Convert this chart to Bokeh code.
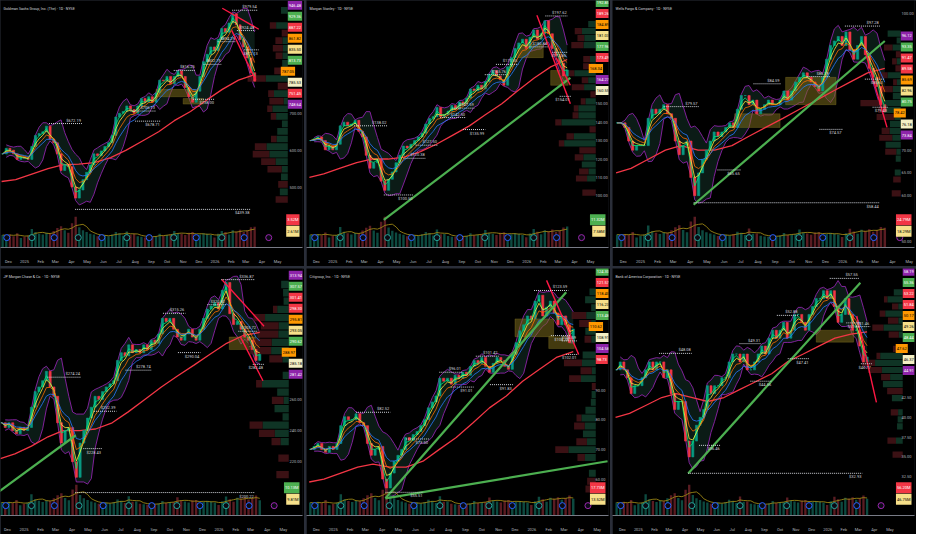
import numpy as np
import pandas as pd
from bokeh.plotting import figure
from bokeh.models import Range1d, FixedTicker, Label, GridBox, PrintfTickFormatter
from bokeh.embed import file_html
from bokeh.resources import INLINE
from bokeh.core.properties import value

# ---------------------------------------------------------------- data
week_start = "2024-11-18"
ma_dates = ["2024-11-18", "2024-12-15", "2025-01-15", "2025-02-15", "2025-03-15", "2025-04-15",
            "2025-05-15", "2025-06-15", "2025-07-15", "2025-08-15", "2025-09-15", "2025-10-15",
            "2025-11-15", "2025-12-15", "2026-01-15", "2026-02-15", "2026-03-18"]
month_ticks = pd.date_range("2024-12-01", "2026-05-01", freq="MS")
event_dates = ["2024-11-28", "2025-01-15", "2025-02-27", "2025-04-14", "2025-05-29", "2025-07-16",
               "2025-08-28", "2025-10-14", "2025-11-26", "2026-01-14", "2026-02-26", "2026-04-14"]
event_kind = ["D", "E", "D", "E", "D", "E", "D", "E", "D", "E", "D", "U"]

# Goldman Sachs
gs_title = "Goldman Sachs Group, Inc. (The) · 1D · NYSE"
gs_close = [590, 605, 600, 590, 575, 580, 578, 575, 610, 640,
            645, 650, 665, 630, 620, 590, 545, 560, 555, 500,
            470, 492, 520, 540, 560, 590, 585, 598, 610, 620,
            640, 690, 700, 705, 720, 710, 700, 720, 740, 730,
            745, 730, 755, 790, 788, 800, 780, 800, 815, 800,
            770, 745, 730, 760, 800, 840, 860, 880, 870, 900,
            930, 920, 945, 970, 940, 900, 880, 850, 810, 787.05]
gs_vol = [2.1, 2.0, 2.2, 1.9, 2.4, 1.6, 1.8, 2.0, 3.1, 2.6,
          2.3, 2.2, 2.5, 2.4, 2.8, 3.3, 3.6, 2.9, 2.5, 4.1,
          5.2, 3.4, 2.9, 2.6, 2.3, 2.2, 1.9, 2.0, 2.1, 1.9,
          2.2, 2.6, 2.4, 2.0, 2.7, 2.2, 2.3, 1.9, 1.8, 1.7,
          2.0, 1.8, 1.9, 2.3, 2.0, 2.1, 2.2, 2.8, 2.4, 2.3,
          2.1, 2.5, 2.6, 2.0, 2.2, 2.4, 2.3, 2.1, 1.7, 2.3,
          2.8, 2.6, 2.2, 2.9, 2.7, 3.0, 2.6, 2.9, 3.4, 3.5]
gs_ma = [515, 520, 535, 550, 560, 562, 566, 580, 600, 625, 650, 680, 705, 735, 765, 790, 805]
gs_piv_dates = ["2025-02-17", "2025-04-08", "2025-07-23", "2025-08-01", "2025-10-14", "2025-11-20",
                "2025-12-10", "2026-01-06", "2026-02-03", "2026-02-12", "2026-02-26"]
gs_piv_prices = [672.19, 439.38, 706.13, 678.71, 816.25, 738.00, 832.75, 894.29, 979.54, 924.48, 872.13]
gs_piv_up = [1, 0, 1, 0, 1, 0, 1, 1, 1, 1, 0]
gs_piv_len = [9, 48, 7, 7, 6, 6, 5, 5, 7, 5, 4]
gs_trend = [("2026-01-15", 985, "2026-03-26", 928, "R"), ("2026-02-02", 925, "2026-03-20", 790, "R")]
gs_zones = [("2025-09-10", "2025-11-25", 745, 765), ("2025-11-01", "2025-12-10", 725, 740)]
gs_boxes = ["946.48", "929.36", "887.22", "861.82", "835.50", "813.73", "787.05", "785.53", "751.45", "748.64"]
gs_box_cols = ["P", "G", "R", "O", "Y", "G", "C", "L", "R", "P"]
gs_vol_boxes = ["3.52M", "2.61M"]
gs_vol_cols = ["R", "Y"]
gs_ticks = [500, 600, 700]

# Morgan Stanley
ms_title = "Morgan Stanley · 1D · NYSE"
ms_close = [130, 131, 132, 130, 125, 127, 125, 128, 138, 140,
            138, 139, 141, 135, 132, 122, 115, 118, 120, 108,
            103, 109, 113, 118, 122, 127, 126, 128, 130, 132,
            134, 139, 142, 143, 148, 143, 144, 146, 149, 147,
            151, 150, 153, 158, 157, 160, 158, 162, 166, 168,
            165, 163, 160, 170, 175, 180, 183, 185, 180, 186,
            190, 185, 188, 195, 188, 180, 176, 172, 165, 168.34]
ms_vol = [6.1, 5.8, 6.5, 5.9, 7.2, 4.8, 5.5, 6.0, 9.8, 7.5,
          6.8, 6.2, 7.0, 6.9, 8.1, 9.5, 10.4, 8.2, 7.1, 12.3,
          14.8, 9.6, 8.0, 7.2, 6.6, 6.1, 5.4, 5.9, 6.0, 5.6,
          6.3, 7.4, 6.9, 5.8, 8.6, 6.4, 6.5, 5.5, 5.2, 5.0,
          5.7, 5.3, 5.6, 6.8, 5.9, 6.1, 6.3, 8.4, 7.0, 6.6,
          6.0, 7.1, 7.3, 5.8, 6.4, 6.9, 6.6, 6.0, 4.9, 6.7,
          8.9, 7.5, 6.4, 8.3, 7.9, 8.6, 7.4, 8.2, 9.6, 10.1]
ms_ma = [110, 112, 115, 118, 120, 120, 121, 124, 128, 133, 138, 144, 150, 157, 164, 170, 174]
ms_piv_dates = ["2025-02-10", "2025-04-07", "2025-05-14", "2025-06-06", "2025-07-22", "2025-08-14",
                "2025-09-03", "2025-10-14", "2025-11-04", "2026-01-06", "2026-02-05", "2026-02-18", "2026-03-04"]
ms_piv_prices = [138.02, 100.50, 120.38, 127.50, 142.50, 147.59, 135.99, 165.76, 171.35, 180.84,
                 197.62, 177.85, 154.01]
ms_piv_up = [1, 0, 1, 1, 1, 1, 0, 1, 1, 1, 1, 0, 0]
ms_piv_len = [9, 8, 6, 6, 7, 6, 6, 6, 6, 5, 6, 4, 3]
ms_trend = [("2025-04-07", 87, "2026-03-24", 164, "G"), ("2026-01-20", 198, "2026-03-24", 150, "R"),
            ("2026-02-25", 175, "2026-03-24", 160, "R")]
ms_zones = [("2025-12-15", "2026-02-01", 175, 182), ("2026-02-15", "2026-03-20", 160, 168)]
ms_boxes = ["192.85", "189.26", "184.89", "181.03", "177.96", "173.49", "168.34", "164.27", "160.55"]
ms_box_cols = ["G", "R", "O", "Y", "G", "R", "C", "P", "L"]
ms_vol_boxes = ["11.32M", "7.58M"]
ms_vol_cols = ["G", "Y"]
ms_ticks = [100, 110, 120, 130, 140, 150]

# Wells Fargo
wfc_title = "Wells Fargo & Company · 1D · NYSE"
wfc_close = [76, 76, 75, 72, 70, 71, 71, 71, 77, 79,
             78, 79, 80, 78, 77, 72, 69, 71, 72, 64,
             60, 65, 68, 70, 72, 74, 73, 74, 75, 76,
             75, 79, 82, 82, 80, 81, 78, 79, 80, 81,
             80, 80, 81, 83, 81, 83, 85, 86, 87, 86,
             85, 84, 83, 86, 90, 93, 94, 95, 93, 96,
             92, 90, 93, 95, 91, 88, 86, 84, 80, 78.42]
wfc_vol = [16.2, 15.1, 17.0, 15.8, 19.4, 12.6, 14.3, 16.1, 27.5, 20.2,
           18.3, 16.9, 18.8, 18.4, 21.6, 25.2, 27.9, 21.8, 19.0, 32.4,
           38.6, 25.7, 21.5, 19.2, 17.6, 16.3, 14.5, 15.6, 16.0, 14.9,
           16.8, 19.7, 18.4, 15.5, 23.9, 17.1, 17.4, 14.7, 13.9, 13.4,
           15.1, 14.0, 14.9, 18.1, 15.7, 16.3, 16.8, 22.5, 18.6, 17.6,
           16.0, 18.9, 19.5, 15.4, 17.0, 18.4, 17.6, 16.1, 13.0, 17.8,
           23.4, 20.1, 17.1, 22.2, 21.0, 22.9, 19.8, 21.9, 25.6, 24.8]
wfc_ma = [65, 66, 68, 70, 71, 70, 70, 71, 73, 75, 77, 79, 81, 83, 85, 87, 88]
wfc_piv_dates = ["2025-02-12", "2025-04-07", "2025-05-20", "2025-07-24", "2025-10-28", "2025-11-20",
                 "2026-01-05", "2026-02-10", "2026-02-24"]
wfc_piv_prices = [79.57, 58.44, 65.65, 84.59, 86.19, 74.57, 97.28, 85.61, 79.43]
wfc_piv_up = [1, 0, 0, 1, 1, 0, 1, 0, 0]
wfc_piv_len = [9, 48, 6, 7, 6, 6, 9, 5, 4]
wfc_trend = [("2025-04-07", 58, "2026-03-18", 94, "G"), ("2026-02-10", 92, "2026-03-22", 75, "R")]
wfc_zones = [("2025-09-20", "2025-12-20", 80, 86), ("2025-06-20", "2025-09-10", 75, 78)]
wfc_boxes = ["96.12", "93.35", "91.47", "89.58", "85.69", "82.96", "80.75", "78.42", "76.18", "73.84"]
wfc_box_cols = ["P", "G", "R", "R", "O", "Y", "G", "C", "L", "P"]
wfc_vol_boxes = ["24.79M", "18.29M"]
wfc_vol_cols = ["R", "Y"]
wfc_ticks = [50, 60, 65, 70, 100]

# JPMorgan
jpm_title = "JP Morgan Chase & Co. · 1D · NYSE"
jpm_close = [245, 242, 245, 240, 238, 242, 240, 242, 255, 265,
             268, 272, 278, 268, 262, 245, 232, 240, 242, 220,
             210, 232, 240, 248, 255, 262, 260, 265, 268, 270,
             272, 285, 290, 288, 295, 290, 292, 290, 295, 292,
             298, 296, 302, 312, 310, 312, 305, 300, 298, 302,
             305, 300, 298, 305, 312, 318, 320, 322, 318, 330,
             335, 315, 308, 310, 305, 300, 298, 292, 285, 288.97]
jpm_vol = [8.7, 8.1, 9.1, 8.4, 10.3, 6.8, 7.6, 8.6, 14.2, 10.8,
           9.8, 9.0, 10.1, 9.8, 11.5, 13.5, 14.9, 11.7, 10.2, 17.3,
           20.6, 13.7, 11.5, 10.3, 9.4, 8.7, 7.8, 8.4, 8.6, 8.0,
           9.0, 10.6, 9.9, 8.3, 12.8, 9.2, 9.3, 7.9, 7.5, 7.2,
           8.1, 7.5, 8.0, 9.7, 8.4, 8.7, 9.0, 12.1, 10.0, 9.4,
           8.6, 10.1, 10.4, 8.2, 9.1, 9.8, 9.4, 8.6, 7.0, 9.5,
           12.6, 10.9, 9.2, 11.9, 11.3, 12.2, 10.6, 11.7, 13.4, 10.1]
jpm_ma = [222, 225, 230, 236, 240, 240, 241, 245, 252, 260, 268, 275, 282, 289, 296, 301, 303]
jpm_piv_dates = ["2025-02-14", "2025-04-07", "2025-04-22", "2025-05-12", "2025-07-10", "2025-09-18",
                 "2025-10-16", "2025-12-10", "2026-01-05", "2026-02-06", "2026-03-05"]
jpm_piv_prices = [274.24, 200.22, 228.43, 252.39, 278.74, 315.26, 290.04, 320.82, 336.87, 303.72, 282.48]
jpm_piv_up = [1, 0, 0, 1, 1, 1, 0, 1, 1, 1, 0]
jpm_piv_len = [9, 48, 5, 6, 7, 6, 6, 5, 9, 5, 3]
jpm_trend = [("2024-11-16", 201, "2025-04-08", 237, "G"), ("2026-01-06", 337, "2026-03-26", 307, "R"),
             ("2026-02-10", 300, "2026-03-24", 272, "R")]
jpm_zones = [("2026-01-20", "2026-03-10", 292, 300)]
jpm_boxes = ["313.94", "307.57", "301.41", "298.30", "295.81", "293.05", "290.62", "288.97", "285.18", "281.42"]
jpm_box_cols = ["P", "G", "R", "R", "O", "Y", "G", "C", "L", "P"]
jpm_vol_boxes = ["10.13M", "9.81M"]
jpm_vol_cols = ["G", "Y"]
jpm_ticks = [220, 240, 260]

# Citigroup
c_title = "Citigroup, Inc. · 1D · NYSE"
c_close = [70, 71, 72, 70, 69, 71, 70, 72, 78, 81,
           80, 80, 82, 79, 78, 72, 68, 70, 71, 60,
           57, 62, 66, 68, 70, 74, 73, 75, 76, 78,
           80, 84, 86, 88, 94, 93, 94, 92, 95, 94,
           96, 95, 98, 100, 99, 101, 98, 96, 99, 101,
           100, 98, 97, 102, 106, 110, 112, 115, 114, 120,
           122, 115, 118, 120, 116, 112, 115, 112, 106, 110.62]
c_vol = [13.5, 12.6, 14.2, 13.1, 16.0, 10.6, 11.9, 13.4, 22.1, 16.8,
         15.2, 14.0, 15.7, 15.3, 17.9, 21.0, 23.2, 18.2, 15.9, 26.9,
         32.1, 21.3, 17.9, 16.0, 14.6, 13.5, 12.1, 13.1, 13.4, 12.4,
         14.0, 16.5, 15.4, 12.9, 19.9, 14.3, 14.5, 12.3, 11.7, 11.2,
         12.6, 11.7, 12.4, 15.1, 13.1, 13.5, 14.0, 18.8, 15.6, 14.6,
         13.4, 15.7, 16.2, 12.8, 14.2, 15.2, 14.6, 13.4, 10.9, 14.8,
         19.6, 16.9, 14.3, 18.5, 17.6, 19.0, 16.5, 18.2, 20.8, 17.4]
c_ma = [59, 60, 62, 64, 65, 64, 64, 66, 70, 74, 79, 84, 88, 93, 97, 101, 103]
c_piv_dates = ["2025-02-12", "2025-04-07", "2025-05-15", "2025-07-15", "2025-08-05", "2025-09-20",
               "2025-10-16", "2026-01-05", "2026-02-05", "2026-02-25", "2026-03-05"]
c_piv_prices = [82.52, 55.51, 73.50, 96.01, 91.01, 101.42, 91.83, 123.59, 108.38, 106.59, 102.01]
c_piv_up = [1, 0, 0, 1, 0, 1, 0, 1, 0, 1, 0]
c_piv_len = [9, 10, 6, 6, 6, 6, 6, 9, 5, 4, 3]
c_trend = [("2025-04-07", 53.5, "2026-03-05", 123, "G"), ("2025-04-07", 53.5, "2026-05-20", 66, "G"),
           ("2026-01-28", 127, "2026-03-28", 102, "R")]
c_zones = [("2025-12-01", "2026-02-10", 108, 114), ("2026-02-01", "2026-03-20", 104, 108)]
c_boxes = ["124.30", "121.57", "118.40", "116.23", "113.48", "110.62", "108.91", "104.58", "98.73"]
c_box_cols = ["G", "R", "O", "Y", "G", "C", "L", "P", "R"]
c_vol_boxes = ["17.73M", "13.52M"]
c_vol_cols = ["R", "Y"]
c_ticks = [60, 70, 80, 90]

# Bank of America
bac_title = "Bank of America Corporation · 1D · NYSE"
bac_close = [46, 47, 46, 45, 43, 44, 44, 45, 46, 47,
             46, 47, 47, 45, 46, 43, 41, 42, 42, 37,
             35, 37, 39, 40, 41, 44, 43, 44, 44, 45,
             45, 47, 48, 48, 47, 48, 46, 46, 47, 48,
             49, 48, 50, 51, 50, 51, 52, 50, 51, 53,
             53, 52, 51, 53, 54, 55, 55, 56, 55, 56,
             54, 52, 53, 55, 53, 51, 51, 49, 47, 47.62]
bac_vol = [36.4, 34.0, 38.3, 35.4, 43.2, 28.6, 32.1, 36.2, 59.7, 45.4,
           41.0, 37.8, 42.4, 41.3, 48.3, 56.7, 62.6, 49.1, 42.9, 72.6,
           86.7, 57.5, 48.3, 43.2, 39.4, 36.4, 32.7, 35.4, 36.2, 33.5,
           37.8, 44.5, 41.6, 34.8, 53.7, 38.6, 39.1, 33.2, 31.6, 30.2,
           34.0, 31.6, 33.5, 40.8, 35.4, 36.4, 37.8, 50.8, 42.1, 39.4,
           36.2, 42.4, 43.7, 34.6, 38.3, 41.0, 39.4, 36.2, 29.4, 40.0,
           52.9, 45.6, 38.6, 50.0, 47.5, 51.3, 44.5, 49.1, 56.2, 46.7]
bac_ma = [40, 40.5, 41.5, 42.5, 43, 42.5, 42, 42.5, 43.5, 44.5, 45.5, 47, 48, 49, 50, 50.5, 50.8]
bac_piv_dates = ["2025-02-10", "2025-04-07", "2025-04-28", "2025-07-15", "2025-08-05", "2025-09-25",
                 "2025-10-16", "2026-01-05", "2026-02-06", "2026-02-24", "2026-03-06"]
bac_piv_prices = [48.08, 32.93, 36.46, 49.31, 44.56, 52.88, 47.41, 57.55, 51.93, 51.46, 46.77]
bac_piv_up = [1, 0, 0, 1, 0, 1, 0, 1, 0, 1, 0]
bac_piv_len = [9, 48, 6, 6, 6, 6, 6, 8, 4, 4, 3]
bac_trend = [("2025-04-07", 32.9, "2026-03-05", 57, "G"), ("2026-02-26", 52.8, "2026-04-05", 41.9, "R")]
bac_zones = [("2025-12-10", "2026-02-20", 49.5, 51)]
bac_boxes = ["58.19", "55.36", "53.22", "51.84", "50.17", "49.26", "48.44", "47.62", "46.37", "44.91"]
bac_box_cols = ["P", "G", "R", "R", "O", "Y", "G", "C", "L", "P"]
bac_vol_boxes = ["56.20M", "46.75M"]
bac_vol_cols = ["R", "Y"]
bac_ticks = [32.5, 35, 37.5, 40, 42.5]

# ---------------------------------------------------------------- style
FONT = "Roboto"
TXT = "#d1d4dc"
AXC = "#b2b5be"
BG = "#000000"
UP = "#089981"
DN = "#f23645"
BOX = {"P": ("#8e24aa", "#ffffff"), "G": ("#4caf50", "#ffffff"), "R": ("#f23645", "#ffffff"),
       "O": ("#ff9800", "#000000"), "Y": ("#f7e08a", "#000000"), "L": ("#f3efc4", "#000000"),
       "C": ("#ff9800", "#000000")}
TREND = {"G": ("#4caf50", 2.2), "R": ("#ff1744", 1.4)}
DAY = 86400000.0
W, H = 304, 266
REF_W = 308.0     # panel width in the reference
REF_FH = 258.0    # frame height in the reference
STEP = 11.5       # stacking step of scale labels (reference px)
FS = "4px"

PANELS = [
    dict(title=gs_title, close=gs_close, vol=gs_vol, ma=gs_ma, pd_=gs_piv_dates, pp=gs_piv_prices,
         pu=gs_piv_up, pl=gs_piv_len, trend=gs_trend, zones=gs_zones, boxes=gs_boxes, bcols=gs_box_cols,
         vboxes=gs_vol_boxes, vcols=gs_vol_cols, ticks=gs_ticks, yr=(336, 1006), xl=(8, 16.2, 293), btop=5),
    dict(title=ms_title, close=ms_close, vol=ms_vol, ma=ms_ma, pd_=ms_piv_dates, pp=ms_piv_prices,
         pu=ms_piv_up, pl=ms_piv_len, trend=ms_trend, zones=ms_zones, boxes=ms_boxes, bcols=ms_box_cols,
         vboxes=ms_vol_boxes, vcols=ms_vol_cols, ticks=ms_ticks, yr=(72, 206), xl=(10, 16.5, 295), btop=2),
    dict(title=wfc_title, close=wfc_close, vol=wfc_vol, ma=wfc_ma, pd_=wfc_piv_dates, pp=wfc_piv_prices,
         pu=wfc_piv_up, pl=wfc_piv_len, trend=wfc_trend, zones=wfc_zones, boxes=wfc_boxes, bcols=wfc_box_cols,
         vboxes=wfc_vol_boxes, vcols=wfc_vol_cols, ticks=wfc_ticks, yr=(48.6, 102.9), xl=(11, 17.2, 294), btop=37),
    dict(title=jpm_title, close=jpm_close, vol=jpm_vol, ma=jpm_ma, pd_=jpm_piv_dates, pp=jpm_piv_prices,
         pu=jpm_piv_up, pl=jpm_piv_len, trend=jpm_trend, zones=jpm_zones, boxes=jpm_boxes, bcols=jpm_box_cols,
         vboxes=jpm_vol_boxes, vcols=jpm_vol_cols, ticks=jpm_ticks, yr=(185.5, 344), xl=(7, 16.6, 294), btop=7),
    dict(title=c_title, close=c_close, vol=c_vol, ma=c_ma, pd_=c_piv_dates, pp=c_piv_prices,
         pu=c_piv_up, pl=c_piv_len, trend=c_trend, zones=c_zones, boxes=c_boxes, bcols=c_box_cols,
         vboxes=c_vol_boxes, vcols=c_vol_cols, ticks=c_ticks, yr=(47.7, 131), xl=(10, 16.9, 295), btop=3),
    dict(title=bac_title, close=bac_close, vol=bac_vol, ma=bac_ma, pd_=bac_piv_dates, pp=bac_piv_prices,
         pu=bac_piv_up, pl=bac_piv_len, trend=bac_trend, zones=bac_zones, boxes=bac_boxes, bcols=bac_box_cols,
         vboxes=bac_vol_boxes, vcols=bac_vol_cols, ticks=bac_ticks, yr=(27.6, 58.8), xl=(10, 16.1, 296), btop=3),
]


def ms(t):
    return pd.Timestamp(t).value / 1e6


def box_label(p, x, y, text, key, xoff=0, align="left"):
    bg, fg = BOX[key]
    p.add_layout(Label(x=x, y=y, x_offset=xoff, text=text, text_font=FONT,
                       text_font_size=FS, text_color=fg, text_baseline="middle",
                       text_align=align, background_fill_color=bg, padding=(1, 3)))


def build(cfg):
    close = np.asarray(cfg["close"], float)
    n = len(close)
    vol = np.asarray(cfg["vol"][:n], float)
    dates = pd.date_range(week_start, periods=n, freq="7D")
    xs = np.array([ms(d) for d in dates]) + 2 * DAY
    opens = np.r_[close[0], close[:-1]]
    up = close >= opens
    cols = np.where(up, UP, DN)

    d0 = ms("2024-12-01")
    dec_x, ppm, fw = cfg["xl"]
    mpx = 30.44 * DAY / ppm
    x0 = d0 - dec_x * mpx
    xe = d0 + (fw - dec_x) * mpx       # start of the price-scale column
    x1 = d0 + (REF_W - dec_x) * mpx    # right edge of the panel
    lo, hi = cfg["yr"]
    vhi = vol.max() * 8
    upx = (hi - lo) / REF_FH           # price units per reference pixel

    p = figure(width=W, height=H, x_axis_type="datetime", y_axis_location="right",
               x_range=Range1d(x0, x1), y_range=Range1d(lo, hi), output_backend="svg",
               toolbar_location=None, background_fill_color=BG, border_fill_color=BG,
               outline_line_color=None, min_border_left=0, min_border_right=0,
               min_border_top=0, min_border_bottom=0)
    p.extra_y_ranges = {"vol": Range1d(0, vhi)}
    p.grid.visible = False

    # axes
    p.yaxis.ticker = FixedTicker(ticks=cfg["ticks"])
    p.yaxis.formatter = PrintfTickFormatter(format="%.2f")
    p.yaxis.major_label_text_font = FONT
    p.yaxis.major_label_text_font_size = FS
    p.yaxis.major_label_text_color = AXC
    p.yaxis.axis_line_color = None
    p.yaxis.major_tick_line_color = None
    p.yaxis.minor_tick_line_color = None
    p.yaxis.major_tick_in = 0
    p.yaxis.major_tick_out = 0
    p.yaxis.major_label_standoff = -13
    tick_ms = [ms(t) for t in month_ticks]
    p.xaxis.ticker = FixedTicker(ticks=tick_ms)
    p.xaxis.major_label_overrides = {v: (str(t.year) if t.month == 1 else t.strftime("%b"))
                                     for v, t in zip(tick_ms, month_ticks)}
    p.xaxis.major_label_text_font = FONT
    p.xaxis.major_label_text_font_size = FS
    p.xaxis.major_label_text_color = AXC
    p.xaxis.axis_line_color = "#787b86"
    p.xaxis.major_tick_line_color = None
    p.xaxis.minor_tick_line_color = None
    p.xaxis.major_label_standoff = 5

    # bollinger-like cloud
    s = pd.Series(close)
    mid = s.rolling(5, min_periods=2).mean()
    sd = s.rolling(5, min_periods=2).std()
    bu = (mid + 1.6 * sd).to_numpy()[1:]
    bl = (mid - 1.6 * sd).to_numpy()[1:]
    p.varea(x=xs[1:], y1=bl, y2=bu, fill_color="#0f2620", fill_alpha=0.7)
    p.line(xs[1:], bu, line_color="#8e24aa", line_width=0.9)
    p.line(xs[1:], bl, line_color="#8e24aa", line_width=0.9)

    # zones
    for z0, z1, zp0, zp1 in cfg["zones"]:
        p.quad(left=ms(z0), right=ms(z1), bottom=zp0, top=zp1, fill_color="#7a6a1c",
               fill_alpha=0.55, line_color="#9c8a2a", line_alpha=0.6, line_width=0.5)

    # volume
    vcol = np.where(up, "#0d4a40", "#5a1c22")
    p.vbar(x=xs, width=4.5 * DAY, top=vol, bottom=0, fill_color=vcol, line_color=None,
           y_range_name="vol")
    p.line(xs, pd.Series(vol).rolling(4, min_periods=1).mean(), line_color="#9a8414",
           line_width=0.9, y_range_name="vol")

    # volume profile (derived from the weekly data)
    edges = np.linspace(close.min() * 0.97, close.max() * 1.02, 27)
    hu, _ = np.histogram(close[up], bins=edges, weights=vol[up])
    hd, _ = np.histogram(close[~up], bins=edges, weights=vol[~up])
    tot = hu + hd
    span = (xe - x0) * 0.14
    sc = span / tot.max()
    ym = (edges[:-1] + edges[1:]) / 2
    bh = (edges[1] - edges[0]) * 0.88
    p.hbar(y=ym, height=bh, left=xe - hu * sc, right=xe, fill_color="#123d2b", line_color=None,
           fill_alpha=0.85)
    p.hbar(y=ym, height=bh, left=xe - tot * sc, right=xe - hu * sc, fill_color="#451417",
           line_color=None, fill_alpha=0.85)

    # long moving average
    p.line([ms(d) for d in ma_dates], cfg["ma"], line_color="#f23645", line_width=1.3)

    # candles
    p.vbar(x=xs, width=4.0 * DAY, top=np.maximum(opens, close), bottom=np.minimum(opens, close),
           fill_color=cols, line_color=cols, line_width=0.6)

    # ema ribbon
    for span_, c in zip([2, 3, 5, 8], ["#00e676", "#ffeb3b", "#ff6d00", "#2979ff"]):
        p.line(xs, s.ewm(span=span_, adjust=False).mean(), line_color=c, line_width=0.8)

    # trend lines
    for a, pa, b, pb, k in cfg["trend"]:
        c, w = TREND[k]
        p.segment(x0=[ms(a)], y0=[pa], x1=[ms(b)], y1=[pb], line_color=c, line_width=w)

    # pivot labels
    px = np.array([ms(d) for d in cfg["pd_"]])
    pl = np.array(cfg["pl"], float)
    pend = np.minimum(px + pl * 7 * DAY, xs[-1] + 10 * DAY)
    pp = np.array(cfg["pp"], float)
    p.segment(x0=px, y0=pp, x1=pend, y1=pp, line_color=TXT, line_width=1, line_dash="1 1")
    txt = ["$%.2f" % v for v in pp]
    pu = np.array(cfg["pu"]) == 1
    p.text(x=pend[pu] - 2 * DAY, y=pp[pu], text=[t for t, u in zip(txt, pu) if u],
           text_font=value(FONT), text_font_size=FS, text_color=TXT, text_align="right",
           text_baseline="bottom", y_offset=-1)
    p.text(x=pend[~pu] - 2 * DAY, y=pp[~pu], text=[t for t, u in zip(txt, pu) if not u],
           text_font=value(FONT), text_font_size=FS, text_color=TXT, text_align="right",
           text_baseline="top", y_offset=1)

    # event markers
    ex = np.array([ms(d) for d in event_dates])
    ec = {"D": "#2962ff", "E": "#26a69a", "U": "#9c27b0"}
    p.scatter(x=ex, y=[vhi * 0.04] * len(ex), size=6, marker="circle", fill_color="#0a0a14",
              line_color=[ec[k] for k in event_kind], line_width=1, y_range_name="vol")

    # title
    p.add_layout(Label(x=x0, y=hi, x_offset=3, y_offset=-8, text=cfg["title"], text_font=FONT,
                       text_font_size="3.6px", text_color=TXT, text_baseline="middle"))

    # price labels stacked on the scale column, top down
    for k, (t, c) in enumerate(zip(cfg["boxes"], cfg["bcols"])):
        yv = hi - (cfg["btop"] + k * STEP) * upx
        box_label(p, xe, yv, t, c, xoff=-7 if c == "C" else 0)
    for k, (t, c) in enumerate(zip(cfg["vboxes"], cfg["vcols"])):
        yv = hi - (229 + k * 12) * upx
        box_label(p, x1, yv, t, c, xoff=-3, align="right")
    return p


figs = [build(c) for c in PANELS]
grid = GridBox(children=[(f, i // 3, i % 3) for i, f in enumerate(figs)], spacing=2,
               styles={"background-color": "#2a2e39"})
open("out.html", "w").write(file_html(grid, INLINE))
